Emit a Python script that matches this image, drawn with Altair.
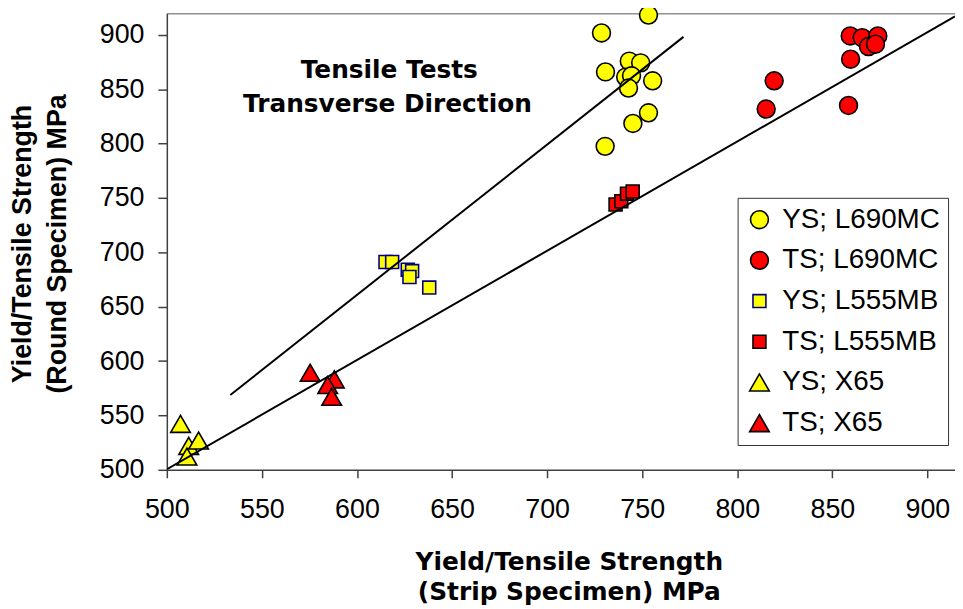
import altair as alt
import pandas as pd

# ---------------- data ----------------
series_names = ["YS; L690MC", "TS; L690MC", "YS; L555MB", "TS; L555MB", "YS; X65", "TS; X65"]

ys_l690_x = [728.6, 753.3, 730.7, 743.2, 749.2, 741.3, 744.4, 742.8, 755.5, 753.3, 745.1, 730.5]
ys_l690_y = [901.8, 918.3, 866.0, 875.9, 874.3, 861.2, 862.4, 851.1, 857.8, 828.4, 818.6, 797.5]

ts_l690_x = [859.4, 865.7, 873.9, 869.0, 872.7, 859.6, 819.4, 815.2, 858.5]
ts_l690_y = [899.1, 897.5, 899.1, 889.3, 891.5, 877.7, 857.8, 831.8, 835.1]

ys_l555_x = [615.0, 618.5, 626.7, 629.0, 627.6, 638.0]
ys_l555_y = [691.1, 691.1, 684.1, 682.8, 677.3, 667.6]

ts_l555_x = [736.0, 739.0, 742.0, 745.0]
ts_l555_y = [744.0, 747.0, 754.0, 756.0]

ys_x65_x = [507.2, 511.5, 516.7, 510.6]
ys_x65_y = [542.2, 522.0, 526.9, 512.2]

ts_x65_x = [575.4, 588.1, 584.6, 586.7]
ts_x65_y = [589.3, 583.2, 578.0, 567.2]

fit_names = ["YS fit", "YS fit", "TS fit", "TS fit"]
fit_x = [533.4, 771.7, 500.0, 914.5]
fit_y = [568.8, 898.2, 500.5, 917.0]

note_text = ["Tensile Tests", "Transverse Direction"]
note_x = [617.0, 616.0]
note_y = [868.0, 836.5]

x_ticks = [500, 550, 600, 650, 700, 750, 800, 850, 900]
y_ticks = [500, 550, 600, 650, 700, 750, 800, 850, 900]

# ---------------- styles ----------------
shape_range = ["circle", "circle", "square", "square", "triangle-up", "triangle-up"]
fill_range = ["#FFFF00", "#FF0000", "#FFFF00", "#FF0000", "#FFFF00", "#FF0000"]
stroke_range = ["#000000", "#000000", "#000080", "#000000", "#000000", "#000000"]
size_range = [324, 324, 170, 170, 390, 390]

all_x = [ys_l690_x, ts_l690_x, ys_l555_x, ts_l555_x, ys_x65_x, ts_x65_x]
all_y = [ys_l690_y, ts_l690_y, ys_l555_y, ts_l555_y, ys_x65_y, ts_x65_y]
rows = []
for name, xs, ys in zip(series_names, all_x, all_y):
    for xv, yv in zip(xs, ys):
        rows.append({"series": name, "x": xv, "y": yv})
pts = pd.DataFrame(rows)
fits = pd.DataFrame({"fit": fit_names, "x": fit_x, "y": fit_y})
notes = pd.DataFrame({"text": note_text, "x": note_x, "y": note_y})

x_scale = alt.Scale(domain=[500, 914.5], nice=False, zero=False)
y_scale = alt.Scale(domain=[500, 920], nice=False, zero=False)

axis_col = "#404040"
x_axis = alt.Axis(
    values=x_ticks, grid=False, tickSize=8, tickWidth=1.5, tickColor=axis_col,
    domainColor=axis_col, domainWidth=1.5, labelFont="Liberation Sans", labelFontSize=27,
    labelColor="black", labelPadding=19, labelFlush=False, labelOverlap=False,
    title=["Yield/Tensile Strength", "(Strip Specimen) MPa"],
    titleFont="DejaVu Sans", titleFontSize=25, titleFontWeight="bold", titleColor="black",
    titleX=405, titleY=80, titleLineHeight=31, titleBaseline="top", titleAlign="center",
)
y_axis = alt.Axis(
    values=y_ticks, grid=False, tickSize=9, tickWidth=1.5, tickColor=axis_col,
    domainColor=axis_col, domainWidth=1.5, labelFont="Liberation Sans", labelFontSize=27,
    labelColor="black", labelPadding=14, labelFlush=False, labelOverlap=False,
    title=["Yield/Tensile Strength", "(Round Specimen) MPa"],
    titleFont="Liberation Sans", titleFontSize=27, titleFontWeight="bold", titleColor="black",
    titleX=-158, titleY=232, titleLineHeight=35, titleBaseline="top", titleAlign="center",
    titleAngle=270,
)
top_axis = alt.Axis(orient="top", grid=False, ticks=False, labels=False, domain=True,
                    domainColor="#909090", domainWidth=1.5, title=None)

leg = alt.Legend(
    orient="none", legendX=575, legendY=186, padding=8, strokeColor="#333333",
    labelFont="Liberation Sans", labelFontSize=28, labelColor="black", labelOffset=9,
    rowPadding=13, symbolStrokeWidth=1.6, title=None,
)

points = alt.Chart(pts).mark_point(filled=True, opacity=1, strokeWidth=1.6).encode(
    x=alt.X("x:Q", scale=x_scale, axis=x_axis),
    y=alt.Y("y:Q", scale=y_scale, axis=y_axis),
    shape=alt.Shape("series:N", scale=alt.Scale(domain=series_names, range=shape_range), legend=leg),
    fill=alt.Fill("series:N", scale=alt.Scale(domain=series_names, range=fill_range), legend=leg),
    stroke=alt.Stroke("series:N", scale=alt.Scale(domain=series_names, range=stroke_range), legend=leg),
    size=alt.Size("series:N", scale=alt.Scale(type="ordinal", domain=series_names, range=size_range), legend=leg),
)

text = alt.Chart(notes).mark_text(
    font="DejaVu Sans", fontWeight="bold", fontSize=25, color="black",
    align="center", baseline="middle",
).encode(
    x=alt.X("x:Q", scale=x_scale, axis=x_axis),
    y=alt.Y("y:Q", scale=y_scale, axis=y_axis),
    text="text:N",
)

lines = alt.Chart(fits).mark_line(color="black", strokeWidth=2, clip=True).encode(
    x=alt.X("x:Q", scale=x_scale, axis=top_axis),
    y=alt.Y("y:Q", scale=y_scale, axis=y_axis),
    detail="fit:N",
)

base = alt.layer(points, text)

chart = alt.layer(base, lines).resolve_axis(x="independent").properties(
    width=794, height=460,
    autosize=alt.AutoSizeParams(type="none"),
    padding={"left": 160, "top": 3, "right": 0, "bottom": 138},
).configure_view(strokeWidth=0)

chart.save("out.html", embed_options={"renderer": "svg", "actions": False})
